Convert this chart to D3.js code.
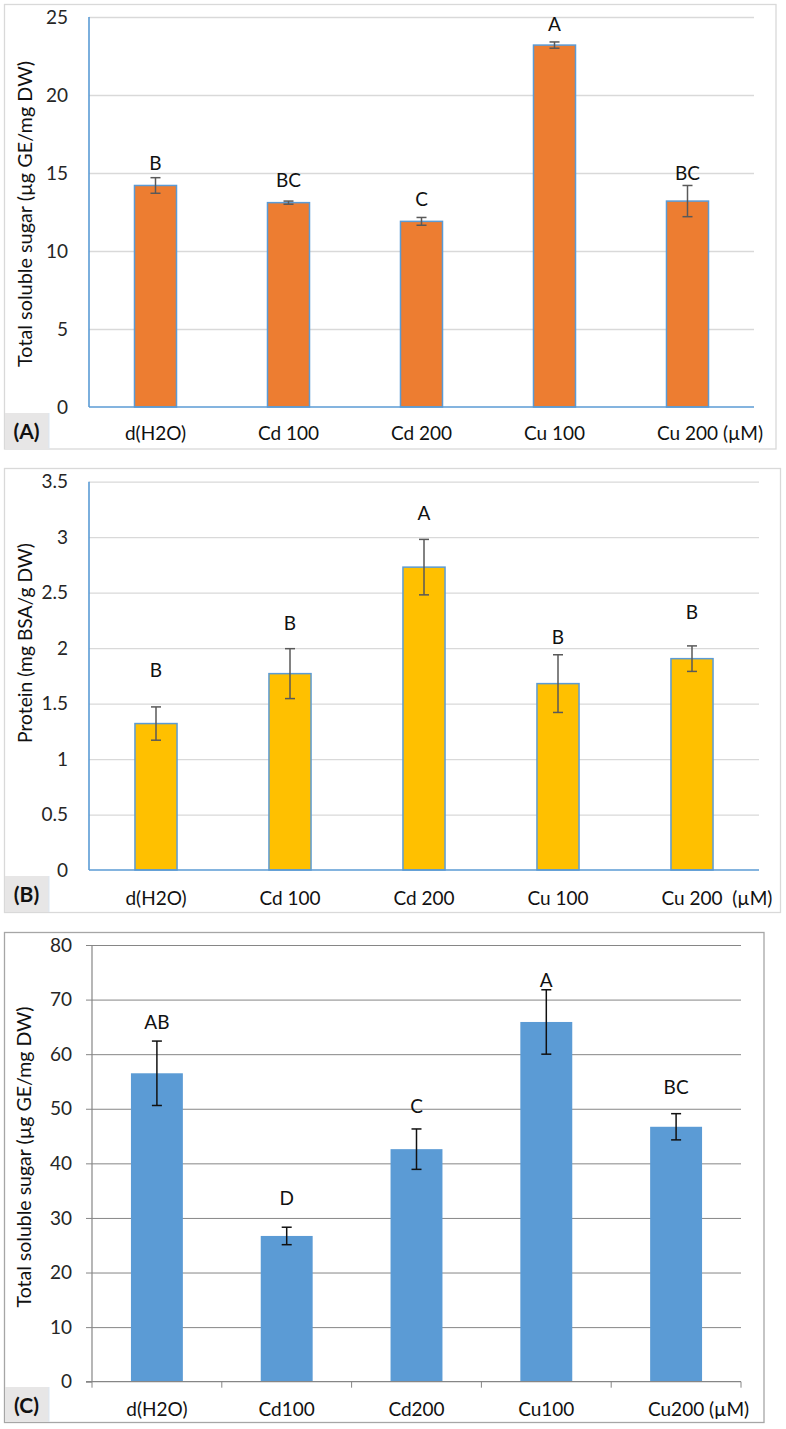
<!DOCTYPE html>
<html>
<head>
<meta charset="utf-8">
<script src="https://cdnjs.cloudflare.com/ajax/libs/d3/7.8.5/d3.min.js"></script>
<style>
  html, body { margin: 0; padding: 0; background: #fff; }
  svg { display: block; font-family: Lato, "Open Sans", sans-serif; }
</style>
</head>
<body>
<svg id="chart" width="786" height="1429"></svg>
<script>
// ---------- DATA ----------
// Panel A: total soluble sugar
const categoriesA = ["d(H2O)", "Cd 100", "Cd 200", "Cu 100", "Cu 200"];
const valuesA = [14.2, 13.1, 11.9, 23.2, 13.2];
const errorsA = [0.5, 0.1, 0.25, 0.2, 1.0];
const lettersA = ["B", "BC", "C", "A", "BC"];
const letterAtA = [15.6, 14.5, 13.3, 24.55, 14.95];
const ticksA = [0, 5, 10, 15, 20, 25];
const titleA = "Total soluble sugar (µg GE/mg DW)";

// Panel B: protein
const categoriesB = ["d(H2O)", "Cd 100", "Cd 200", "Cu 100", "Cu 200"];
const valuesB = [1.32, 1.77, 2.73, 1.68, 1.905];
const errorsB = [0.15, 0.225, 0.25, 0.26, 0.115];
const lettersB = ["B", "B", "A", "B", "B"];
const letterAtB = [1.80, 2.225, 3.215, 2.10, 2.325];
const ticksB = [0, 0.5, 1, 1.5, 2, 2.5, 3, 3.5];
const titleB = "Protein (mg BSA/g DW)";

// Panel C: total soluble sugar
const categoriesC = ["d(H2O)", "Cd100", "Cd200", "Cu100", "Cu200"];
const valuesC = [56.5, 26.7, 42.6, 65.9, 46.7];
const errorsC = [5.9, 1.6, 3.7, 5.9, 2.4];
const lettersC = ["AB", "D", "C", "A", "BC"];
const letterAtC = [65.9, 33.6, 50.4, 73.6, 54.0];
const ticksC = [0, 10, 20, 30, 40, 50, 60, 70, 80];
const titleC = "Total soluble sugar (µg GE/mg DW)";

const unitLabels = ["(µM)", "(µM)", "(µM)"];
const unitGaps = [" ", "  ", " "];
const panelLabels = ["(A)", "(B)", "(C)"];

// ---------- DRAWING ----------
const svg = d3.select("#chart");
const FS = 19;

function drawPanel(o) {
  const g = svg.append("g");
  // frame
  g.append("rect")
    .attr("x", o.frame[0]).attr("y", o.frame[1])
    .attr("width", o.frame[2] - o.frame[0]).attr("height", o.frame[3] - o.frame[1])
    .attr("fill", "#fff").attr("stroke", o.frameColor).attr("stroke-width", 1.3);

  const x = d3.scaleBand().domain(o.categories).range([o.x0, o.x1]).paddingInner(o.pad).paddingOuter(o.pad / 2);
  const xb = d3.scaleBand().domain(o.categories).range([o.x0, o.x1]).padding(0);
  const y = d3.scaleLinear().domain([0, o.ticks[o.ticks.length - 1]]).range([o.yZero, o.yTop]);

  // gridlines
  const grid = g.append("g").attr("transform", `translate(${o.x0},0)`)
    .call(d3.axisLeft(y).tickValues(o.ticks.slice(1)).tickSize(-(o.x1 - o.x0)).tickFormat(""));
  grid.select(".domain").remove();
  grid.selectAll(".tick line").attr("stroke", o.gridColor).attr("stroke-width", o.gridWidth);

  // y axis labels
  const ya = g.append("g").attr("transform", `translate(${o.x0},0)`)
    .call(d3.axisLeft(y).tickValues(o.ticks).tickSize(o.yTick).tickPadding(o.tickPad)
      .tickFormat(d => String(d)));
  ya.select(".domain").remove();
  ya.selectAll(".tick line").attr("stroke", o.axisColor).attr("stroke-width", 1);
  ya.selectAll(".tick text").attr("font-size", FS).attr("fill", "#262626")
    .attr("font-family", "Lato, sans-serif");

  // bars
  g.append("g").selectAll("rect").data(o.values).join("rect")
    .attr("x", (d, i) => x(o.categories[i]))
    .attr("y", d => y(d))
    .attr("width", x.bandwidth())
    .attr("height", d => y(0) - y(d))
    .attr("fill", o.barColor)
    .attr("stroke", o.barStroke || "none")
    .attr("stroke-width", o.barStroke ? 1.5 : 0);

  // axes lines
  g.append("line").attr("x1", o.x0).attr("x2", o.x0).attr("y1", o.yTop).attr("y2", o.yZero)
    .attr("stroke", o.axisColor).attr("stroke-width", o.axisWidth);
  g.append("line").attr("x1", o.x0 - (o.yTick > 0 ? o.yTick : 0)).attr("x2", o.x1).attr("y1", o.yZero).attr("y2", o.yZero)
    .attr("stroke", o.axisColor).attr("stroke-width", o.axisWidth);

  // x ticks at category boundaries (panel C)
  if (o.xTicks) {
    const bounds = o.categories.map(c => xb(c)).concat([o.x1]);
    g.append("g").selectAll("line").data(bounds).join("line")
      .attr("x1", d => d).attr("x2", d => d)
      .attr("y1", o.yZero).attr("y2", o.yZero + 6)
      .attr("stroke", o.axisColor).attr("stroke-width", 1);
  }

  // error bars
  const eb = g.append("g").attr("stroke", o.errColor).attr("stroke-width", 1.5).attr("fill", "none");
  o.values.forEach((v, i) => {
    const cx = x(o.categories[i]) + x.bandwidth() / 2;
    const yt = y(v + o.errors[i]), ybm = y(v - o.errors[i]);
    eb.append("line").attr("x1", cx).attr("x2", cx).attr("y1", yt).attr("y2", ybm);
    eb.append("line").attr("x1", cx - 5).attr("x2", cx + 5).attr("y1", yt).attr("y2", yt);
    eb.append("line").attr("x1", cx - 5).attr("x2", cx + 5).attr("y1", ybm).attr("y2", ybm);
  });

  // significance letters
  g.append("g").selectAll("text").data(o.letters).join("text")
    .attr("x", (d, i) => x(o.categories[i]) + x.bandwidth() / 2)
    .attr("y", (d, i) => y(o.letterAt[i]))
    .attr("dy", "0.35em")
    .attr("text-anchor", "middle")
    .attr("font-size", FS).attr("fill", "#111")
    .text(d => d);

  // x category labels
  const labels = g.append("g").selectAll("text").data(o.categories).join("text")
    .attr("x", d => x(d) + x.bandwidth() / 2)
    .attr("y", o.labelY)
    .attr("dy", "0.35em")
    .attr("text-anchor", "middle")
    .attr("font-size", FS).attr("fill", "#111")
    .text(d => d);
  const last = labels.nodes()[labels.nodes().length - 1];
  const lastW = last.getComputedTextLength();
  const lastC = x(o.categories[o.categories.length - 1]) + x.bandwidth() / 2;
  g.append("text")
    .attr("x", lastC + lastW / 2)
    .attr("y", o.labelY).attr("dy", "0.35em")
    .attr("font-size", FS).attr("fill", "#111")
    .attr("xml:space", "preserve")
    .style("white-space", "pre")
    .text(o.unitGap + o.unit);

  // y title (font size tuned so the title spans the same length as the original)
  const t = g.append("text")
    .attr("transform", `translate(${o.titleX},${o.titleY}) rotate(-90)`)
    .attr("text-anchor", "middle").attr("dy", "0.35em")
    .attr("font-size", 18).attr("fill", "#111")
    .text(o.title);
  const len = t.node().getComputedTextLength();
  t.attr("font-size", 18 * o.titleLen / len);

  // panel label box
  g.append("rect")
    .attr("x", o.frame[0] + 0.5).attr("y", o.labelBox[0])
    .attr("width", 44).attr("height", o.labelBox[1] - o.labelBox[0])
    .attr("fill", "#e7e6e6");
  g.append("line")
    .attr("x1", o.frame[0] + 44.5).attr("x2", o.frame[0] + 44.5)
    .attr("y1", o.labelBox[0]).attr("y2", o.labelBox[1])
    .attr("stroke", "#dbe7f3").attr("stroke-width", 1);
  g.append("text")
    .attr("x", o.frame[0] + 22).attr("y", (o.labelBox[0] + o.labelBox[1]) / 2 + 1)
    .attr("dy", "0.35em").attr("text-anchor", "middle")
    .attr("font-size", 21).attr("font-weight", "bold").attr("fill", "#111")
    .text(o.panelLabel);
}

drawPanel({
  categories: categoriesA, values: valuesA, errors: errorsA, letters: lettersA, letterAt: letterAtA,
  ticks: ticksA, title: titleA, unit: unitLabels[0], unitGap: unitGaps[0], panelLabel: panelLabels[0],
  frame: [4.5, 4.5, 776, 449], frameColor: "#d9d9d9",
  x0: 89, x1: 754, yTop: 17, yZero: 407, pad: 0.684,
  gridColor: "#d9d9d9", gridWidth: 1.3, axisColor: "#5b9bd5", axisWidth: 1.6, yTick: 0, tickPad: 21,
  barColor: "#ed7d31", barStroke: "#5b9bd5", errColor: "#595959",
  labelY: 433, titleX: 25, titleY: 214, titleLen: 306, labelBox: [413, 448.5]
});

drawPanel({
  categories: categoriesB, values: valuesB, errors: errorsB, letters: lettersB, letterAt: letterAtB,
  ticks: ticksB, title: titleB, unit: unitLabels[1], unitGap: unitGaps[1], panelLabel: panelLabels[1],
  frame: [4.5, 468.5, 780.5, 912.5], frameColor: "#d9d9d9",
  x0: 89, x1: 759, yTop: 481.7, yZero: 870, pad: 0.686,
  gridColor: "#d9d9d9", gridWidth: 1.3, axisColor: "#5b9bd5", axisWidth: 1.6, yTick: 0, tickPad: 21,
  barColor: "#ffc000", barStroke: "#5b9bd5", errColor: "#595959",
  labelY: 898, titleX: 25, titleY: 643, titleLen: 200, labelBox: [876, 912]
});

drawPanel({
  categories: categoriesC, values: valuesC, errors: errorsC, letters: lettersC, letterAt: letterAtC,
  ticks: ticksC, title: titleC, unit: unitLabels[2], unitGap: unitGaps[2], panelLabel: panelLabels[2],
  frame: [4.5, 932.5, 764, 1422.5], frameColor: "#a6a6a6",
  x0: 92, x1: 741, yTop: 945, yZero: 1381.7, pad: 0.6,
  gridColor: "#868686", gridWidth: 1, axisColor: "#868686", axisWidth: 1.2, yTick: 6, tickPad: 14,
  barColor: "#5b9bd5", barStroke: null, errColor: "#111", xTicks: true,
  labelY: 1409, titleX: 24, titleY: 1157, titleLen: 301, labelBox: [1387, 1422]
});
</script>
</body>
</html>
